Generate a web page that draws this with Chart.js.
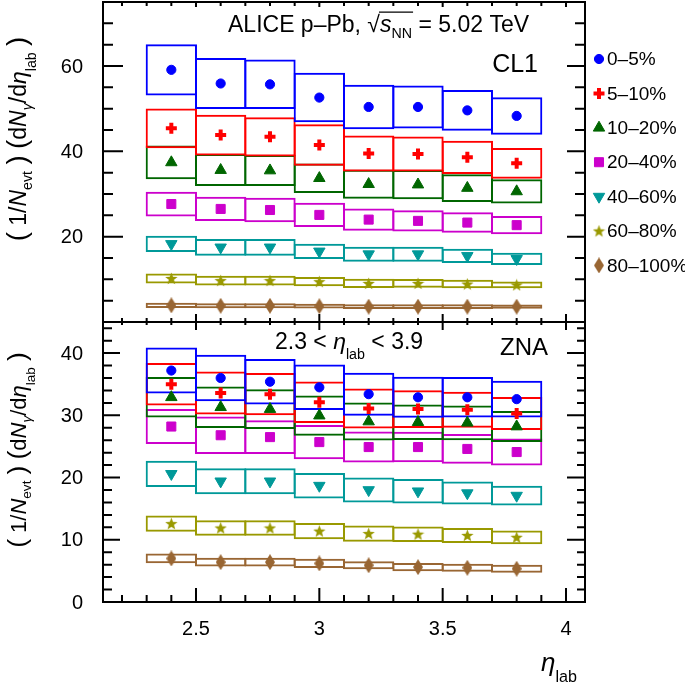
<!DOCTYPE html>
<html>
<head>
<meta charset="utf-8">
<script src="https://cdn.jsdelivr.net/npm/chart.js@4.4.1/dist/chart.umd.min.js"></script>
<style>
  html, body { margin: 0; padding: 0; background: #fff; }
  #wrap { position: relative; width: 685px; height: 688px; overflow: hidden; }
  #cTop { position: absolute; left: 0; top: 0; }
  #cBot { position: absolute; left: 0; top: 312px; }
</style>
</head>
<body>
<div id="wrap">
  <canvas id="cTop" width="685" height="330"></canvas>
  <canvas id="cBot" width="685" height="376"></canvas>
</div>
<script>
// ─── Data ─────────────────────────────────────────────────────────────────────
const eta = [2.4, 2.6, 2.8, 3.0, 3.2, 3.4, 3.6, 3.8];
const centLabels = ['0–5%', '5–10%', '10–20%', '20–40%', '40–60%', '60–80%', '80–100%'];

// CL1 (top panel): values and half-height of the systematic boxes
const cl1_0_5      = [59.1, 55.9, 55.7, 52.6, 50.4, 50.4, 49.6, 48.3];
const cl1_0_5_sys  = [6.0, 5.95, 5.8, 5.8, 5.2, 5.05, 4.8, 4.4];
const cl1_5_10     = [45.4, 43.8, 43.4, 41.5, 39.5, 39.4, 38.6, 37.2];
const cl1_5_10_sys = [4.65, 4.8, 4.6, 4.85, 4.2, 4.1, 3.9, 3.6];
const cl1_10_20    = [37.4, 35.6, 35.5, 33.7, 32.3, 32.2, 31.4, 30.6];
const cl1_10_20_sys= [3.95, 3.75, 3.65, 3.45, 3.4, 3.45, 3.25, 2.85];
const cl1_20_40    = [27.65, 26.5, 26.25, 25.1, 24.0, 23.7, 23.3, 22.7];
const cl1_20_40_sys= [2.9, 2.85, 2.85, 2.85, 2.6, 2.5, 2.4, 2.15];
const cl1_40_60    = [18.3, 17.5, 17.5, 16.55, 15.9, 15.9, 15.5, 14.8];
const cl1_40_60_sys= [1.9, 1.95, 1.95, 1.8, 1.75, 1.75, 1.65, 1.45];
const cl1_60_80    = [10.2, 9.7, 9.7, 9.45, 9.05, 9.05, 8.9, 8.7];
const cl1_60_80_sys= [1.15, 1.15, 1.15, 1.1, 1.1, 1.05, 1.0, 0.8];
const cl1_80_100   = [3.9, 3.8, 3.8, 3.7, 3.6, 3.6, 3.6, 3.6];
const cl1_80_100_sys=[0.6, 0.6, 0.6, 0.55, 0.55, 0.55, 0.55, 0.5];

// ZNA (bottom panel)
const zna_0_5      = [37.2, 36.0, 35.4, 34.5, 33.4, 32.9, 32.9, 32.6];
const zna_0_5_sys  = [3.7, 3.75, 3.65, 3.65, 3.45, 3.3, 3.25, 2.95];
const zna_5_10     = [35.0, 33.6, 33.4, 32.1, 31.1, 31.0, 30.9, 30.3];
const zna_5_10_sys = [3.4, 3.45, 3.4, 3.35, 3.2, 3.05, 2.9, 2.65];
const zna_10_20    = [32.9, 31.3, 31.0, 29.95, 29.0, 28.9, 28.8, 28.2];
const zna_10_20_sys= [3.25, 3.35, 3.2, 3.25, 3.05, 2.85, 2.8, 2.5];
const zna_20_40    = [28.2, 26.8, 26.5, 25.7, 24.9, 24.9, 24.6, 24.1];
const zna_20_40_sys= [2.8, 3.0, 2.7, 2.75, 2.5, 2.45, 2.4, 2.17];
const zna_40_60    = [20.6, 19.4, 19.4, 18.7, 18.0, 17.8, 17.5, 17.1];
const zna_40_60_sys= [2.1, 2.1, 2.1, 2.05, 2.0, 1.95, 1.85, 1.6];
const zna_60_80    = [12.6, 11.9, 11.9, 11.4, 11.0, 10.9, 10.7, 10.4];
const zna_60_80_sys= [1.3, 1.25, 1.25, 1.3, 1.3, 1.25, 1.2, 1.1];
const zna_80_100   = [7.0, 6.4, 6.4, 6.2, 5.9, 5.6, 5.5, 5.35];
const zna_80_100_sys=[0.78, 0.7, 0.7, 0.75, 0.65, 0.65, 0.63, 0.63];

const cl1Vals = [cl1_0_5, cl1_5_10, cl1_10_20, cl1_20_40, cl1_40_60, cl1_60_80, cl1_80_100];
const cl1Sys  = [cl1_0_5_sys, cl1_5_10_sys, cl1_10_20_sys, cl1_20_40_sys, cl1_40_60_sys, cl1_60_80_sys, cl1_80_100_sys];
const znaVals = [zna_0_5, zna_5_10, zna_10_20, zna_20_40, zna_40_60, zna_60_80, zna_80_100];
const znaSys  = [zna_0_5_sys, zna_5_10_sys, zna_10_20_sys, zna_20_40_sys, zna_40_60_sys, zna_60_80_sys, zna_80_100_sys];

// tick labels
const xTickVals = [2.5, 3, 3.5, 4];
const topYTickVals = [20, 40, 60];
const botYTickVals = [0, 10, 20, 30, 40];

// ─── Styles ───────────────────────────────────────────────────────────────────
const FONT = '"Liberation Sans", Arial, Helvetica, sans-serif';
const colors = ['#0000ff', '#ff0000', '#006600', '#cc00cc', '#009999', '#999900', '#996633'];

function starCanvas(color, size) {
  const c = document.createElement('canvas');
  c.width = c.height = size;
  const g = c.getContext('2d');
  g.fillStyle = color;
  g.beginPath();
  for (let k = 0; k < 10; k++) {
    const r = k % 2 ? size * 0.21 : size / 2;
    const a = -Math.PI / 2 + k * Math.PI / 5;
    g.lineTo(size / 2 + r * Math.cos(a), size / 2 + 0.5 + r * Math.sin(a));
  }
  g.closePath(); g.fill();
  return c;
}
function diamondCanvas(color, w, h) {
  const c = document.createElement('canvas');
  c.width = w; c.height = h;
  const g = c.getContext('2d');
  g.fillStyle = color;
  g.beginPath();
  g.moveTo(w / 2, 0); g.lineTo(w, h / 2); g.lineTo(w / 2, h); g.lineTo(0, h / 2);
  g.closePath(); g.fill();
  return c;
}

const markers = [
  { style: 'circle', r: 4.6, bw: 1, rot: 0 },
  { style: 'cross', r: 5.5, bw: 4, rot: 0 },
  { style: 'triangle', r: 6.6, bw: 1, rot: 0 },
  { style: 'rect', r: 6.4, bw: 1, rot: 0 },
  { style: 'triangle', r: 6.6, bw: 1, rot: 180 },
  { style: starCanvas(colors[5], 13), r: 6, bw: 0, rot: 0 },
  { style: diamondCanvas(colors[6], 10, 16), r: 6, bw: 0, rot: 0 }
];

function buildDatasets(vals, sys) {
  const ds = [];
  vals.forEach((v, i) => {
    ds.push({
      type: 'scatter',
      label: centLabels[i],
      data: eta.map((x, j) => ({ x, y: v[j] })),
      pointStyle: markers[i].style,
      pointRadius: markers[i].r,
      pointRotation: markers[i].rot,
      pointBorderWidth: markers[i].bw,
      pointBackgroundColor: colors[i],
      pointBorderColor: colors[i],
      pointHoverRadius: markers[i].r,
      showLine: false,
      order: 1
    });
  });
  vals.forEach((v, i) => {
    ds.push({
      type: 'bar',
      label: centLabels[i] + ' sys',
      data: eta.map((x, j) => ({ x, y: [v[j] - sys[i][j], v[j] + sys[i][j]] })),
      backgroundColor: 'rgba(0,0,0,0)',
      borderColor: colors[i],
      borderWidth: 2,
      borderSkipped: false,
      grouped: false,
      barPercentage: 1.04,
      categoryPercentage: 1,
      order: 2
    });
  });
  return ds;
}

// ─── Helper: rich text (italic, subscripts, overline) ───────────────────────
function drawRich(ctx, segs, x, y, size, align) {
  const parts = segs.map(([t, f = '', k = 1]) => {
    const small = f.includes('s') || f.includes('d');
    const fs = (small ? size * 0.62 : size) * k;
    const font = (f.includes('i') ? 'italic ' : '') + fs + 'px ' + FONT;
    ctx.font = font;
    return { t, f, font, w: ctx.measureText(t).width, dy: f.includes('d') ? size * 0.42 : f.includes('s') ? size * 0.24 : 0 };
  });
  const total = parts.reduce((s, p) => s + p.w, 0);
  let cx = align === 'center' ? x - total / 2 : align === 'right' ? x - total : x;
  ctx.textAlign = 'left';
  ctx.textBaseline = 'alphabetic';
  let ovStart = null, ovEnd = null;
  parts.forEach(p => {
    ctx.font = p.font;
    ctx.fillText(p.t, cx, y + p.dy);
    if (p.f.includes('o')) { if (ovStart === null) ovStart = cx; ovEnd = cx + p.w; }
    cx += p.w;
  });
  if (ovStart !== null) {
    ctx.save();
    ctx.lineWidth = 1.3;
    ctx.beginPath();
    ctx.moveTo(ovStart - 1, y - size * 0.86);
    ctx.lineTo(ovEnd + 1, y - size * 0.86);
    ctx.stroke();
    ctx.restore();
  }
  return total;
}

const yTitleSegs = [['(', '', 1.2], [' 1/'], ['N', 'i'], ['evt', 's'], [' ', ''], [')', '', 1.2], [' '], ['(', '', 1.2], ['d'], ['N', 'i'], ['γ', 'is'], ['/d'], ['η', 'i'], ['lab', 'd'], [' '], [')', '', 1.2]];

// ─── Frame, inward ticks and y tick labels ──────────────────────────────────
function frameTicksPlugin(cfg) {
  return {
    id: 'frameTicks' + cfg.name,
    afterDatasetsDraw(chart) {
      const { ctx, chartArea: a, scales: { x, y } } = chart;
      ctx.save();
      ctx.strokeStyle = '#000';
      ctx.lineWidth = 2;
      ctx.beginPath();
      for (let k = Math.ceil(x.min * 10 - 1e-6); k <= Math.floor(x.max * 10 + 1e-6); k++) {
        const px = x.getPixelForValue(k / 10);
        const major = k % 5 === 0;
        ctx.moveTo(px, a.bottom); ctx.lineTo(px, a.bottom - (major ? cfg.xb[0] : cfg.xb[1]));
        ctx.moveTo(px, a.top); ctx.lineTo(px, a.top + (major ? cfg.xt[0] : cfg.xt[1]));
      }
      for (let v = 0; v <= y.max + 1e-6; v += cfg.yMinor) {
        const py = y.getPixelForValue(v);
        const major = Math.abs(v % cfg.yMajor) < 1e-6;
        ctx.moveTo(a.left, py); ctx.lineTo(a.left + (major ? cfg.yl[0] : cfg.yl[1]), py);
        ctx.moveTo(a.right, py); ctx.lineTo(a.right - (major ? cfg.yr[0] : cfg.yr[1]), py);
      }
      ctx.stroke();
      ctx.strokeRect(a.left, a.top, a.right - a.left, a.bottom - a.top);
      // y tick labels
      ctx.fillStyle = '#000';
      ctx.font = '20px ' + FONT;
      ctx.textAlign = 'right';
      ctx.textBaseline = 'middle';
      y.ticks.forEach(t => ctx.fillText(String(t.value), a.left - 20, y.getPixelForValue(t.value) + 1));
      ctx.restore();
    }
  };
}

const topDecor = {
  id: 'topDecor',
  afterDraw(chart) {
    const ctx = chart.ctx;
    ctx.save();
    ctx.fillStyle = '#000';
    ctx.strokeStyle = '#000';
    drawRich(ctx, [['ALICE p–Pb, '], ['√'], ['s', 'io'], ['NN', 'so'], [' = 5.02 TeV']], 228, 32, 23, 'left');
    drawRich(ctx, [['CL1']], 538, 72, 25, 'right');
    // y title
    ctx.translate(26, 139);
    ctx.rotate(-Math.PI / 2);
    drawRich(ctx, yTitleSegs, 0, 0, 23, 'center');
    ctx.restore();

    // legend
    const dp = Chart.helpers && Chart.helpers.drawPoint;
    ctx.save();
    centLabels.forEach((lab, i) => {
      const yy = 59 + i * 34.4;
      const m = markers[i];
      ctx.fillStyle = colors[i];
      ctx.strokeStyle = colors[i];
      ctx.lineWidth = m.bw;
      if (dp) dp(ctx, { pointStyle: m.style, rotation: m.rot, radius: m.r, borderWidth: m.bw }, 599, yy);
      ctx.fillStyle = '#000';
      ctx.font = '19px ' + FONT;
      ctx.textAlign = 'left';
      ctx.textBaseline = 'middle';
      ctx.fillText(lab, 607, yy + 1);
    });
    ctx.restore();
  }
};

const botDecor = {
  id: 'botDecor',
  afterDraw(chart) {
    const ctx = chart.ctx;
    ctx.save();
    ctx.fillStyle = '#000';
    drawRich(ctx, [['2.3 < '], ['η', 'i'], ['lab', 'd'], [' < 3.9']], 275, 37, 23, 'left');
    drawRich(ctx, [['ZNA']], 548, 43, 24, 'right');
    drawRich(ctx, [['η', 'i'], ['lab', 'd']], 577, 359, 26, 'right');
    ctx.translate(26, 138);
    ctx.rotate(-Math.PI / 2);
    drawRich(ctx, yTitleSegs, 0, 0, 22, 'center');
    ctx.restore();
  }
};

// ─── Charts ───────────────────────────────────────────────────────────────────
Chart.defaults.font.family = FONT;
Chart.defaults.color = '#000';

function yScale(max, tickVals) {
  return {
    type: 'linear',
    min: 0,
    max: max,
    afterFit: s => { s.width = 103; },
    afterBuildTicks: s => { s.ticks = tickVals.map(v => ({ value: v })); },
    grid: { display: false, drawTicks: false },
    border: { display: false },
    ticks: { display: false }
  };
}

new Chart(document.getElementById('cTop'), {
  type: 'scatter',
  data: { datasets: buildDatasets(cl1Vals, cl1Sys) },
  options: {
    responsive: false,
    animation: false,
    layout: { autoPadding: false, padding: { left: 0, right: 100, top: 2, bottom: 8 } },
    plugins: { legend: { display: false }, tooltip: { enabled: false } },
    scales: {
      x: {
        type: 'linear', min: 2.123, max: 4.077, offset: false, display: false,
        afterBuildTicks: s => { s.ticks = xTickVals.map(v => ({ value: v })); }
      },
      y: yScale(75, topYTickVals)
    }
  },
  plugins: [frameTicksPlugin({ name: 'top', xb: [8, 4], xt: [5, 4], yl: [20, 10], yr: [18, 10], yMinor: 5, yMajor: 20 }), topDecor]
});

new Chart(document.getElementById('cBot'), {
  type: 'scatter',
  data: { datasets: buildDatasets(znaVals, znaSys) },
  options: {
    responsive: false,
    animation: false,
    layout: { autoPadding: false, padding: { left: 0, right: 100, top: 10, bottom: 0 } },
    plugins: { legend: { display: false }, tooltip: { enabled: false } },
    scales: {
      x: {
        type: 'linear', min: 2.123, max: 4.077, offset: false,
        afterFit: s => { s.height = 86; },
        afterBuildTicks: s => { s.ticks = xTickVals.map(v => ({ value: v })); },
        grid: { display: false, drawTicks: false },
        border: { display: false },
        ticks: { font: { size: 20 }, padding: 15, color: '#000', maxRotation: 0, callback: v => String(v) }
      },
      y: yScale(45, botYTickVals)
    }
  },
  plugins: [frameTicksPlugin({ name: 'bot', xb: [14, 7], xt: [8, 3], yl: [17, 9], yr: [18, 8], yMinor: 2, yMajor: 10 }), botDecor]
});
</script>
</body>
</html>
